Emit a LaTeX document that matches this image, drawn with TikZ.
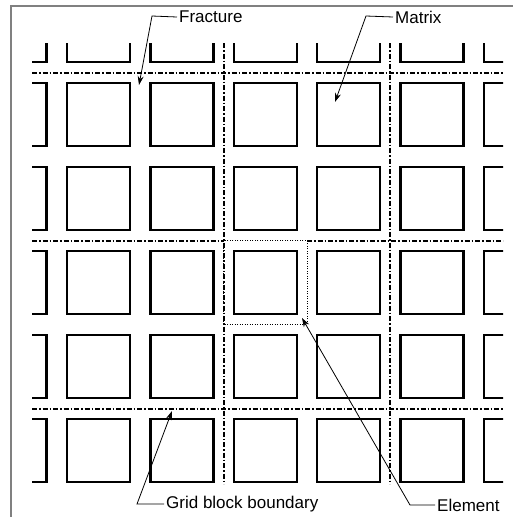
\documentclass[tikz,border=0pt]{standalone}
\usepackage{fontspec}
\setmainfont{Liberation Sans}
\usetikzlibrary{arrows.meta}
\newcommand{\pitchx}{83.4}
\newcommand{\pitchy}{84}

\begin{document}
\begin{tikzpicture}[x=1pt, y=-1pt,
  block/.style={line width=2.4pt},
  fracture/.style={line width=2pt, dash pattern=on 5pt off 2pt on 1.5pt off 2pt},
  element/.style={line width=1pt, dash pattern=on 1pt off 1.5pt},
  leader/.style={line width=0.8pt, -{Stealth[length=9pt,width=6pt]}},
  label/.style={anchor=west, inner sep=2pt, font=\fontsize{17}{19}\selectfont}]
  \useasboundingbox (0,0) rectangle (513,517);
  \draw[black!50, line width=1.5pt] (11,517) -- (11,6) -- (513,6);
  \begin{scope}
    \clip (32,43) rectangle (503,490);
    \foreach \i in {0,...,6} {
      \foreach \j in {0,...,5} {
        \draw[block] ({-16.4+\pitchx*\i},{-1+\pitchy*\j}) rectangle +(63,63);
      }
    }
  \end{scope}
  \draw[element] (223.6,240.5) rectangle (307,324.5);
  \foreach \y in {72.5, 408.5} { \draw[fracture] (32,\y) -- (503,\y); }
  \draw[fracture] (32,240.5) -- (223.6,240.5);
  \draw[fracture] (307,240.5) -- (503,240.5);
  \foreach \x in {223.6, 390.4} { \draw[fracture] (\x,43) -- (\x,484); }
  \node[label] (fracture) at (177,17) {Fracture};
  \coordinate (fractureknee) at (152,16);
  \coordinate (fracturetip) at (139,85);
  \draw[leader] (fracture.west) -- (fractureknee) -- (fracturetip);
  \node[label] (matrix) at (393,17) {Matrix};
  \coordinate (matrixknee) at (366,16);
  \coordinate (matrixtip) at (335,102);
  \draw[leader] (matrix.west) -- (matrixknee) -- (matrixtip);
  \node[label] (boundary) at (164,504) {Grid block boundary};
  \coordinate (boundaryknee) at (137,504);
  \coordinate (boundarytip) at (172,411);
  \draw[leader] (boundary.west) -- (boundaryknee) -- (boundarytip);
  \node[label] (element) at (435,505) {Element};
  \coordinate (elementknee) at (410,505);
  \coordinate (elementtip) at (302,318);
  \draw[leader] (element.west) -- (elementknee) -- (elementtip);
\end{tikzpicture}
\end{document}
